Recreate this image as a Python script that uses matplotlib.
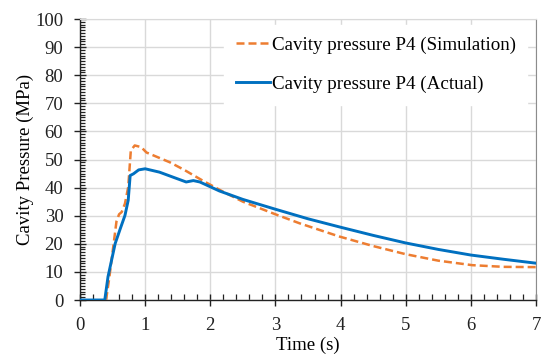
import numpy as np
import matplotlib
matplotlib.use("Agg")
import matplotlib.pyplot as plt
from matplotlib.ticker import MultipleLocator

plt.rcParams["font.family"] = ["Liberation Serif", "DejaVu Serif"]

# Presión en cavidad P4 — simulación
t_sim = [0.40, 0.45, 0.51, 0.56, 0.60, 0.64, 0.69, 0.74, 0.78, 0.84, 0.94, 1.02,
         1.38, 1.60, 1.89, 2.20, 2.50, 3.00, 3.37, 3.98, 4.50, 5.00,
         5.50, 6.02, 6.50, 7.00]
p_sim = [0.0, 8.0, 18.9, 28.0, 30.5, 31.3, 34.3, 40.2, 53.2, 55.0, 54.4, 52.5,
         49.0, 46.3, 42.4, 38.5, 35.0, 30.5, 27.3, 22.6, 19.2, 16.3,
         14.0, 12.4, 11.8, 11.7]

# Presión en cavidad P4 — medida real
t_act = [0.00, 0.20, 0.38, 0.43, 0.54, 0.62, 0.69, 0.74, 0.77, 0.82, 0.90,
         1.00, 1.22, 1.43, 1.63, 1.74, 1.84, 2.14, 2.50, 3.00, 3.50, 4.00,
         4.50, 5.00, 5.50, 6.00, 6.50, 7.00]
p_act = [0.0, 0.0, 0.0, 8.3, 20.1, 25.5, 30.1, 35.5, 44.3, 44.9, 46.3,
         46.7, 45.5, 43.7, 42.0, 42.5, 42.0, 38.8, 35.8, 32.3, 28.9, 25.9,
         23.0, 20.3, 18.0, 16.0, 14.5, 13.1]

fig = plt.figure(figsize=(5.45, 3.56), dpi=100)
ax = fig.add_axes([0.1468, 0.1573, 0.9835 - 0.1468, 0.9466 - 0.1573])

ax.plot(t_sim, p_sim, color="#ED7D31", lw=1.8, ls=(0, (3.2, 1.6)),
        label="Cavity pressure P4 (Simulation)", zorder=3)
ax.plot(t_act, p_act, color="#0070C0", lw=2.1,
        label="Cavity pressure P4 (Actual)", zorder=4)

ax.set_xlim(0, 7)
ax.set_ylim(0, 100)
ax.xaxis.set_major_locator(MultipleLocator(1))
ax.xaxis.set_minor_locator(MultipleLocator(0.2))
ax.yaxis.set_major_locator(MultipleLocator(10))
ax.yaxis.set_minor_locator(MultipleLocator(1))
ax.grid(True, which="major", color="#d9d9d9", lw=1.0, zorder=0)
ax.set_axisbelow(True)

ax.tick_params(which="major", direction="inout", length=8, width=1.0,
               labelsize=13.5, colors="#222222")
ax.tick_params(axis="y", which="major", pad=8)
ax.tick_params(axis="x", which="major", pad=8)
ax.tick_params(which="minor", direction="in", length=3.5, width=0.9,
               colors="#222222")
ax.tick_params(axis="x", which="minor", direction="in", length=4)

for side in ("left", "bottom"):
    ax.spines[side].set_color("#222222")
    ax.spines[side].set_linewidth(1.0)
ax.spines["top"].set_color("#d9d9d9")
ax.spines["right"].set_color("#8c8c8c")

ax.set_xlabel("Time (s)", fontsize=13.5, labelpad=2)
ax.set_ylabel("Cavity Pressure (MPa)", fontsize=13.5, labelpad=1)

leg = ax.legend(loc="upper left", bbox_to_anchor=(0.296, 1.012), fontsize=13.7,
                frameon=True, fancybox=False, edgecolor="white",
                facecolor="white", framealpha=1.0, labelspacing=1.15,
                handlelength=1.8, handletextpad=0.1, borderpad=0.6)
leg.set_zorder(5)

fig.savefig("out.png", dpi=100)
